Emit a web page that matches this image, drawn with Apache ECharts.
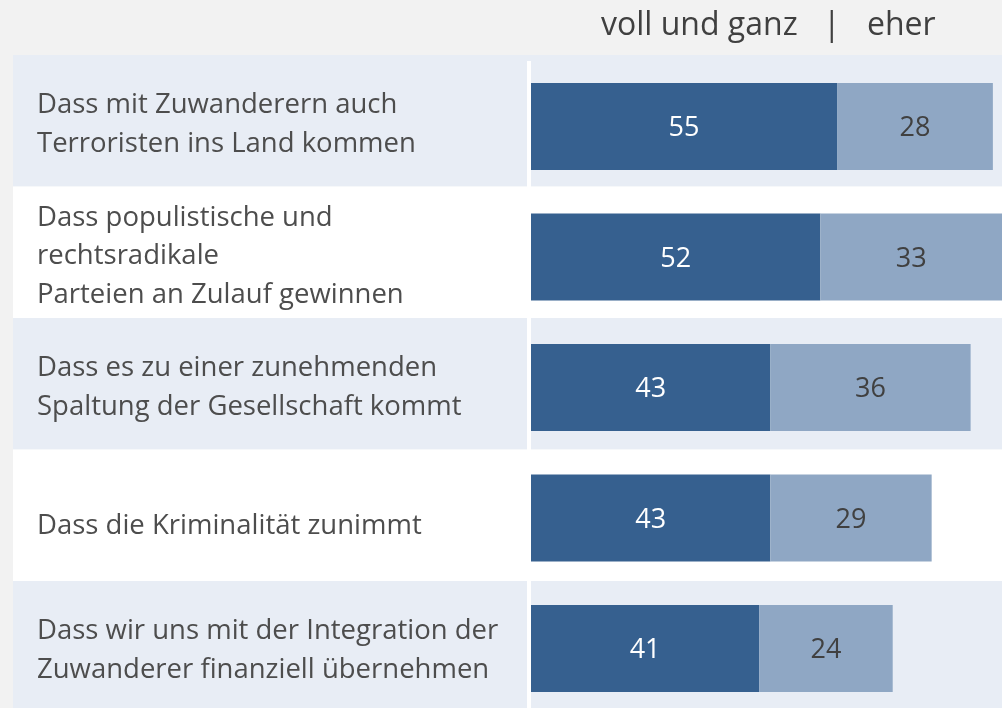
<!DOCTYPE html>
<html>
<head>
<meta charset="utf-8">
<style>
  html, body { margin: 0; padding: 0; background: #f2f2f2; }
  #chart { width: 1002px; height: 708px; }
</style>
<script src="https://cdn.jsdelivr.net/npm/echarts@6/dist/echarts.min.js"></script>
</head>
<body>
<div id="chart"></div>
<script>
// Sorgen – Antworten in Prozent
const categories = [
  'Dass mit Zuwanderern auch\nTerroristen ins Land kommen',
  'Dass populistische und\nrechtsradikale\nParteien an Zulauf gewinnen',
  'Dass es zu einer zunehmenden\nSpaltung der Gesellschaft kommt',
  'Dass die Kriminalität zunimmt',
  'Dass wir uns mit der Integration der\nZuwanderer finanziell übernehmen'
]
const seriesNames = ['voll und ganz', 'eher']
const vollUndGanz = [55, 52, 43, 43, 41]
const eher = [28, 33, 36, 29, 24]

const font = '"Open Sans", "Noto Sans", sans-serif'
const headStyle = { fontFamily: font, fontSize: 32, fontWeight: 'normal', color: '#404040' }

const myChart = echarts.init(document.getElementById('chart'))

const option = {
  backgroundColor: '#f2f2f2',
  animation: false,
  textStyle: { fontFamily: font },
  title: [
    { text: seriesNames[0], left: 596, top: 5, textStyle: headStyle },
    { text: '|', left: 818, top: 5, textStyle: headStyle },
    { text: seriesNames[1], left: 862, top: 5, textStyle: headStyle }
  ],
  graphic: [
    // white separator between labels and bars
    { type: 'rect', shape: { x: 527, y: 61, width: 4, height: 660 }, style: { fill: '#ffffff' }, z: 5 }
  ],
  grid: [
    // row bands + labels
    { left: 13, right: 0, top: 55, height: 657.5, outerBoundsMode: 'none' },
    // bars
    { left: 531, right: 0, top: 61.25, height: 652.5, outerBoundsMode: 'none' }
  ],
  xAxis: [
    { gridIndex: 0, type: 'value', min: 0, max: 1, show: false },
    { gridIndex: 1, type: 'value', min: 0, max: 84.64, show: false }
  ],
  yAxis: [
    {
      gridIndex: 0,
      type: 'category',
      data: categories,
      inverse: true,
      axisLine: { show: false },
      axisTick: { show: false },
      splitLine: { show: false },
      splitArea: { show: true, areaStyle: { color: ['#e8edf5', '#ffffff'] } },
      axisLabel: {
        inside: true,
        margin: 24,
        fontSize: 27.5,
        lineHeight: 38.5,
        color: '#4d4d4d',
        fontFamily: font,
        align: 'left',
        padding: [8, 0, 0, 0],
        // the single-line label sits a bit lower in the original
        formatter: (v) => (v.indexOf('\n') < 0 ? '{low|' + v + '}' : v),
        rich: {
          low: { fontSize: 27.5, lineHeight: 38.5, color: '#4d4d4d', fontFamily: font, padding: [14, 0, 0, 0] }
        }
      },
      z: 1
    },
    {
      gridIndex: 1,
      type: 'category',
      data: categories,
      inverse: true,
      show: false
    }
  ],
  series: [
    {
      name: seriesNames[0],
      type: 'bar',
      xAxisIndex: 1,
      yAxisIndex: 1,
      stack: 'total',
      data: vollUndGanz,
      barWidth: 87,
      itemStyle: { color: '#36608f' },
      label: { show: true, position: 'inside', offset: [0, 2], fontSize: 27, color: '#ffffff', fontFamily: font }
    },
    {
      name: seriesNames[1],
      type: 'bar',
      xAxisIndex: 1,
      yAxisIndex: 1,
      stack: 'total',
      data: eher,
      barWidth: 87,
      itemStyle: { color: '#8fa7c4' },
      label: { show: true, position: 'inside', offset: [0, 2], fontSize: 27, color: '#404040', fontFamily: font }
    }
  ]
}

myChart.setOption(option)
window.addEventListener('resize', () => {
  myChart.resize()
})
</script>
</body>
</html>
